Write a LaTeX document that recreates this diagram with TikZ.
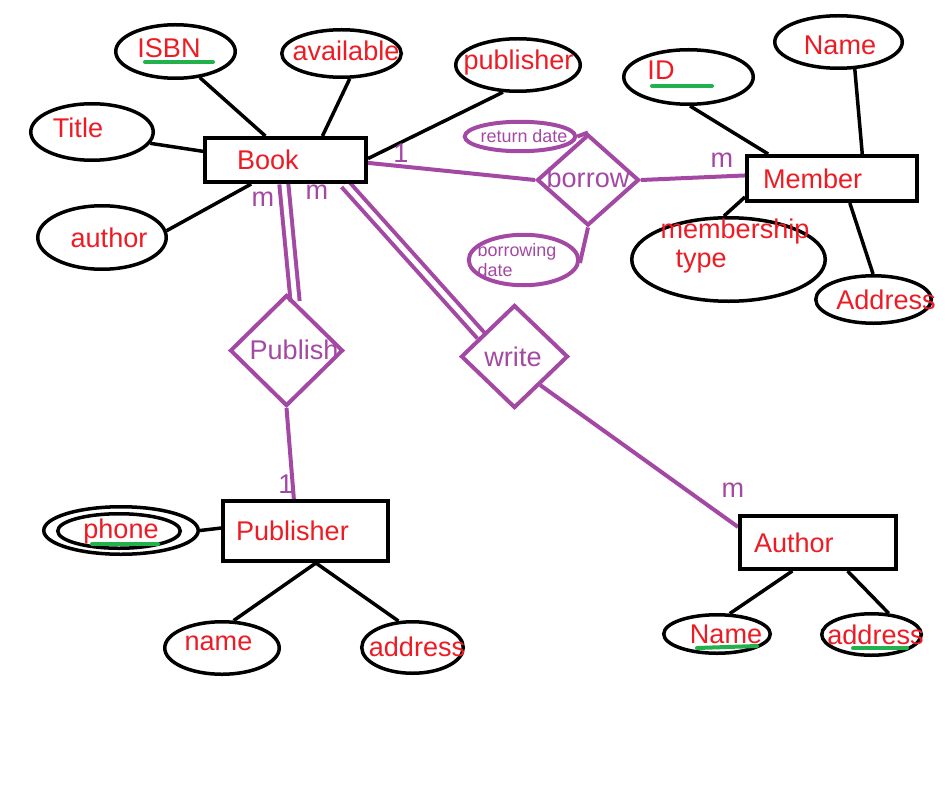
\documentclass[tikz,border=0pt]{standalone}
\usepackage{fontspec}
\setmainfont{Liberation Sans}
\usetikzlibrary{
  shapes.geometric,
  calc,
  backgrounds
}
\definecolor{erRed}{HTML}{ED1C24}
\definecolor{erRel}{HTML}{A349A4}
\definecolor{erKey}{HTML}{22B14C}
\tikzset{
  entity/.style={
    draw, line width=0.8mm, inner ysep=0pt, align=left,
    font=\fontsize{15.4}{16}\selectfont, text=erRed
  },
  attr/.style={draw, ellipse, line width=0.7mm, inner sep=0pt},
  relattr/.style={attr, draw=erRel, line width=0.8mm},
  rel/.style={draw=erRel, diamond, line width=0.8mm, inner sep=0pt},
  attrtext/.style={font=\fontsize{15.4}{16}\selectfont, text=erRed, align=left, inner sep=0pt},
  reltext/.style={attrtext, text=erRel},
  smalltext/.style={reltext, font=\fontsize{10.2}{11.4}\selectfont},
  card/.style={font=\fontsize{15.4}{16}\selectfont, text=erRel, inner sep=0pt},
  link/.style={line width=0.7mm, black},
  rellink/.style={line width=0.8mm, erRel},
  twolink/.style={line width=0.8mm, draw=erRel, double=white, double distance=1mm},
  keyline/.style={line width=0.8mm, erKey, line cap=round}
}
\begin{document}
\begin{tikzpicture}[x=0.2mm, y=-0.2mm]
  \useasboundingbox (0,0) rectangle (950,798);
  \node[entity, minimum width=32.2mm, minimum height=8.8mm, inner xsep=6.4mm, text width=19.4mm] (book) at (285.5,160) {Book};
  \node[entity, minimum width=34mm, minimum height=9mm, inner xsep=3.2mm, text width=27.6mm] (member) at (832,178.5) {Member};
  \node[entity, minimum width=33mm, minimum height=12mm, inner xsep=2.6mm, text width=27.8mm] (publisher) at (305.5,531) {Publisher};
  \node[entity, minimum width=31.2mm, minimum height=10.6mm, inner xsep=2.8mm, text width=25.6mm] (author) at (818,542.5) {Author};

  \node[rel, minimum width=20.4mm, minimum height=18.2mm] (borrow) at (588,180) {};
  \node[rel, minimum width=22.6mm, minimum height=22.2mm] (publish) at (286.5,350.5) {};
  \node[rel, minimum width=21.4mm, minimum height=20.6mm] (write) at (514.5,356.5) {};
  \node[reltext] (borrow-t) at ($(borrow)+(0,-2)$) {borrow};
  \node[reltext] (publish-t) at ($(publish)+(7.5,-1)$) {Publish};
  \node[reltext] (write-t) at ($(write)+(-1.5,0)$) {write};

  \node[attr, minimum width=23.9mm, minimum height=10.7mm] (isbn) at (175.5,51.5) {};
  \node[attr, minimum width=23.9mm, minimum height=9.5mm] (avail) at (341.5,53.5) {};
  \node[attr, minimum width=24.9mm, minimum height=10.5mm] (pubattr) at (518,65) {};
  \node[attr, minimum width=24.5mm, minimum height=11.3mm] (title) at (92,132) {};
  \node[attr, minimum width=25.7mm, minimum height=12.7mm] (bauthor) at (102,237.5) {};
  \node[attrtext] (isbn-t) at ($(isbn)+(-6.5,-3.5)$) {ISBN};
  \node[attrtext] (avail-t) at ($(avail)+(4.5,-3)$) {available};
  \node[attrtext] (pubattr-t) at ($(pubattr)+(0.5,-2)$) {publisher};
  \node[attrtext] (title-t) at ($(title)+(-14,-4)$) {Title};
  \node[attrtext] (bauthor-t) at ($(bauthor)+(7,0)$) {author};

  \node[attr, minimum width=25.9mm, minimum height=10.9mm] (id) at (688.5,77) {};
  \node[attr, minimum width=25.5mm, minimum height=10.5mm] (mname) at (838.5,42) {};
  \node[attr, minimum width=38.7mm, minimum height=16.7mm] (mtype) at (728.5,259.5) {};
  \node[attr, minimum width=23.1mm, minimum height=9.5mm] (maddr) at (873.5,299.5) {};
  \node[attrtext] (id-t) at ($(id)+(-27.5,-7)$) {ID};
  \node[attrtext] (mname-t) at ($(mname)+(1.5,3)$) {Name};
  \node[attrtext] (mtype-t) at ($(mtype)+(6.5,-13.5)$) {membership\\\hspace*{3mm}type};
  \node[attrtext] (maddr-t) at ($(maddr)+(12.5,0)$) {Address};

  \node[relattr, minimum width=22.1mm, minimum height=5.9mm] (retdate) at (520,136.5) {};
  \node[relattr, minimum width=21.9mm, minimum height=10.1mm] (bdate) at (523.5,260) {};
  \node[smalltext] (retdate-t) at ($(retdate)+(4,0)$) {return date};
  \node[smalltext] (bdate-t) at ($(bdate)+(-6.5,0)$) {borrowing\\date};

  \node[attr, minimum width=30.9mm, minimum height=9.5mm] (phone-o) at (121,530.5) {};
  \node[attr, minimum width=24.5mm, minimum height=6.9mm] (phone) at (119,531) {};
  \node[attr, minimum width=22.9mm, minimum height=10.5mm] (pname) at (222,648) {};
  \node[attr, minimum width=20.3mm, minimum height=10.3mm] (paddr) at (412.5,647.5) {};
  \node[attrtext] (phone-t) at ($(phone)+(2,0)$) {phone};
  \node[attrtext] (pname-t) at ($(pname)+(-3.5,-5)$) {name};
  \node[attrtext] (paddr-t) at ($(paddr)+(4.5,-1)$) {address};

  \node[attr, minimum width=21.3mm, minimum height=7.7mm] (aname) at (717,634) {};
  \node[attr, minimum width=19.9mm, minimum height=8.3mm] (aaddr) at (871.5,634.5) {};
  \node[attrtext] (aname-t) at ($(aname)+(9,0)$) {Name};
  \node[attrtext] (aaddr-t) at ($(aaddr)+(4,0)$) {address};

  \node[card] (card-bb) at (401,153) {1};
  \node[card] (card-bm) at (722,160) {m};
  \node[card] (card-pb) at (263,199) {m};
  \node[card] (card-wb) at (317,192) {m};
  \node[card] (card-pp) at (286,484) {1};
  \node[card] (card-wa) at (733,490) {m};

  \begin{scope}[on background layer]
    \draw[link] (isbn.-47) -- (book.130);
    \draw[link] (avail.-72) -- (book.33);
    \draw[link] (pubattr.-119) -- (book.1);
    \draw[link] (title.-11) -- (book.174);
    \draw[link] (bauthor.6) -- (book.-145);
    \draw[link] (id.-87) -- (member.159);
    \draw[link] (mname.-59) -- (member.39);
    \draw[link] (member.-168) -- (mtype.96);
    \draw[link] (member.-54) -- (maddr.91);
    \draw[rellink] (book.-2) -- (borrow.west);
    \draw[rellink] (borrow.east) -- (member.178);
    \draw[rellink] (retdate.east) -- (borrow.north);
    \draw[rellink] (borrow.south) -- (bdate.-3);
    \draw[twolink] (book.-94) -- (publish.80);
    \draw[twolink] (book.-22) -- (write.148);
    \draw[rellink] (write.-48) -- (author.169);
    \draw[rellink] (publish.south) -- (publisher.110);
    \draw[link] (phone-o.east) -- (publisher.178);
    \draw[link] (publisher.-72) -- (pname.67);
    \draw[link] (publisher.-72) -- (paddr.118);
    \draw[link] (author.-132) -- (aname.58);
    \draw[link] (author.-44) -- (aaddr.51);
  \end{scope}

  \draw[keyline] ($(isbn)+(-30.5,10.5)$) -- ++(68,0);
  \draw[keyline] ($(id)+(-36.5,9)$) -- ++(60,0);
  \draw[keyline] ($(phone)+(-27,13)$) -- ++(66,0);
  \draw[keyline] ($(aname)+(-20,14)$) -- ($(aname)+(40,12)$);
  \draw[keyline] ($(aaddr)+(-18.5,13.5)$) -- ++(54,0);
\end{tikzpicture}
\end{document}
